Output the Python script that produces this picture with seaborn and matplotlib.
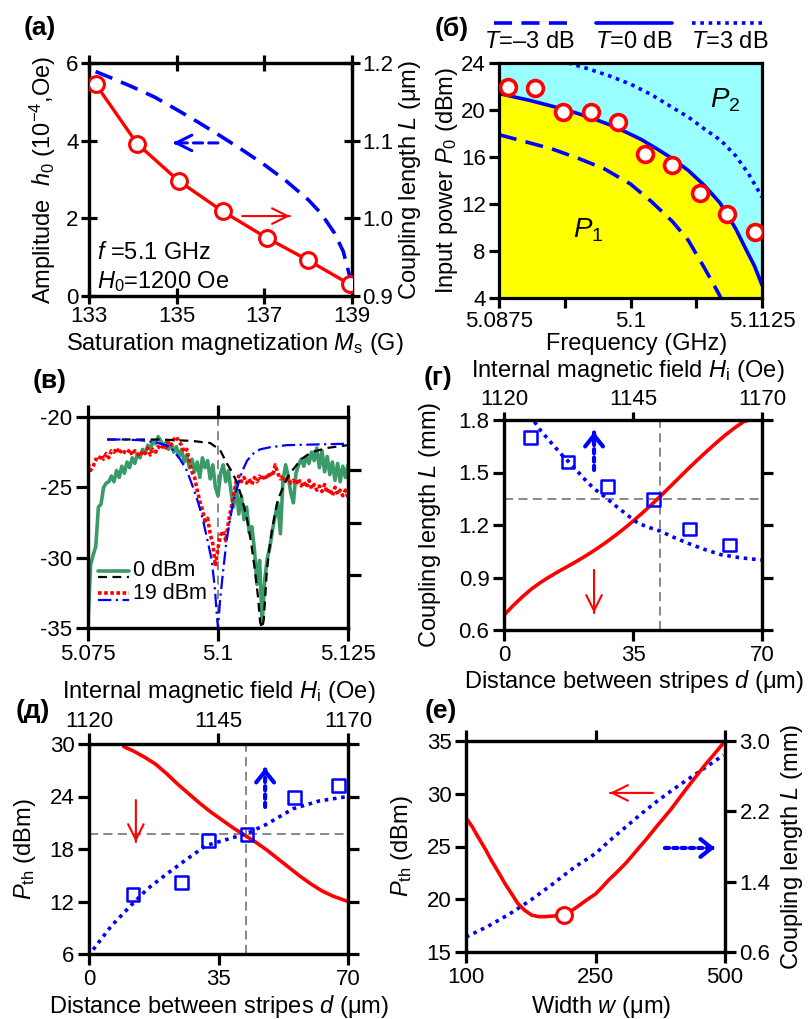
import numpy as np
import matplotlib
matplotlib.use("Agg")
import matplotlib.pyplot as plt
import seaborn as sns

# ---------------- data ----------------
# (a) coupling length vs saturation magnetization, and field amplitude
ms_pts = [133.15, 134.1, 135.05, 136.05, 137.05, 138.0, 138.95]
len_pts = [1.173, 1.096, 1.048, 1.009, 0.975, 0.946, 0.915]
ms_curve = [133.15, 133.5, 134.0, 134.5, 135.0, 135.5, 136.0, 136.5, 137.0,
            137.5, 138.0, 138.3, 138.6, 138.8, 138.95]
h0_curve = [5.78, 5.62, 5.38, 5.12, 4.80, 4.47, 4.12, 3.76, 3.38,
            2.96, 2.48, 2.12, 1.62, 1.15, 0.50]

# (б) input power phase diagram
f_t0 = [5.0875, 5.0890, 5.0905, 5.0920, 5.0935, 5.0950, 5.0965, 5.0980, 5.0995,
        5.1010, 5.1025, 5.1040, 5.1055, 5.1070, 5.1085, 5.1100, 5.1110, 5.1118, 5.1125]
p_t0 = [21.4, 21.1, 20.8, 20.45, 20.1, 19.7, 19.25, 18.75, 18.15,
        17.5, 16.7, 15.85, 14.85, 13.6, 12.1, 9.9, 8.1, 6.7, 5.1]
f_tm3 = [5.0875, 5.0900, 5.0925, 5.0950, 5.0975, 5.1000, 5.1020, 5.1040, 5.1055,
         5.1070, 5.1080, 5.1086]
p_tm3 = [17.9, 17.3, 16.7, 15.9, 15.0, 13.7, 12.2, 10.5, 8.9, 6.6, 5.0, 4.0]
f_tp3 = [5.0941, 5.0960, 5.0980, 5.1000, 5.1020, 5.1040, 5.1055, 5.1070, 5.1086,
         5.1100, 5.1112, 5.1125]
p_tp3 = [24.0, 23.5, 22.9, 22.2, 21.3, 20.2, 19.4, 18.4, 17.4, 16.1, 14.6, 12.6]
f_meas = [5.08836, 5.09095, 5.09355, 5.09621, 5.09881, 5.10141, 5.10398,
          5.10658, 5.10921, 5.11180]
p_meas = [22.0, 21.84, 19.87, 19.79, 18.94, 16.29, 15.29, 12.96, 11.11, 9.58]

# (в) transmission spectra
f_sweep = np.linspace(5.075, 5.125, 101)
s_0dbm = [-34.7, -30.5, -29.8, -29.2, -26.4, -26.2, -25.0, -24.7, -24.6, -24.2,
          -24.6, -23.8, -24.3, -23.5, -24.0, -23.2, -23.6, -22.9, -23.3, -22.6,
          -22.9, -22.3, -22.6, -22.0, -22.3, -21.7, -21.9, -21.4, -21.7, -22.1,
          -21.8, -22.3, -21.9, -22.5, -22.1, -22.8, -22.3, -23.2, -22.7, -23.6,
          -23.0, -23.9, -23.2, -24.3, -22.9, -23.6, -23.1, -24.4, -23.4, -25.0,
          -25.6, -24.0, -23.4, -24.6, -23.8, -25.3, -26.4, -24.8, -26.9, -25.6,
          -27.3, -26.4, -28.2, -27.8, -29.4, -31.9, -30.2, -34.7, -31.5, -30.0,
          -29.2, -28.0, -27.0, -26.1, -28.3, -24.5, -23.4, -24.2, -25.4, -26.1,
          -24.0, -23.4, -23.0, -23.5, -22.8, -23.3, -22.5, -23.1, -22.2, -23.6,
          -22.4, -23.9, -22.8, -24.1, -23.2, -24.5, -23.3, -24.6, -23.5, -24.3,
          -23.4]
s_19dbm = [-23.3, -23.8, -23.5, -23.0, -23.1, -22.7, -23.0, -22.6, -22.9, -22.4,
           -22.5, -22.2, -22.6, -22.3, -22.5, -22.6, -22.3, -22.7, -22.4, -22.6,
           -22.8, -22.4, -22.6, -22.2, -22.7, -22.3, -22.5, -22.1, -22.3, -22.0,
           -22.2, -21.7, -22.0, -21.6, -21.4, -21.8, -22.0, -22.5, -22.3, -23.2,
           -23.9, -24.3, -25.2, -26.0, -26.6, -27.4, -27.2, -28.3, -29.0, -30.6,
           -29.3, -28.4, -28.1, -28.8, -27.5, -26.5, -25.5, -24.6, -24.2, -24.6,
           -24.3, -24.7, -24.4, -24.8, -24.3, -24.6, -24.2, -24.5, -24.1, -24.4,
           -23.9, -24.2, -23.4, -24.0, -24.4, -24.2, -24.6, -24.3, -24.7, -24.5,
           -24.8, -24.4, -24.9, -24.6, -25.0, -24.5, -25.1, -24.8, -25.2, -24.9,
           -25.3, -24.8, -25.4, -25.1, -25.6, -25.0, -25.5, -25.2, -25.6, -25.2,
           -25.7]
f_th19 = [5.0787, 5.0820, 5.0850, 5.0880, 5.0908, 5.0927, 5.0940, 5.0952, 5.0962,
          5.0971, 5.0980, 5.0988, 5.0994, 5.0998, 5.1000, 5.1004, 5.1010, 5.1016,
          5.1023, 5.1030, 5.1037, 5.1046, 5.1056, 5.1068, 5.1081, 5.1100, 5.1133,
          5.1190, 5.1250]
s_th19 = [-21.6, -21.6, -21.65, -21.8, -22.1, -23.0, -23.8, -25.0, -26.1,
          -27.3, -28.8, -30.2, -32.2, -34.2, -35.0, -33.0, -30.9, -28.9,
          -27.3, -25.9, -25.0, -23.9, -23.1, -22.6, -22.3, -22.15, -22.0,
          -21.95, -21.9]
f_th0 = [5.0787, 5.0888, 5.0950, 5.0985, 5.1004, 5.1017, 5.1027, 5.1037, 5.1047,
         5.1056, 5.1064, 5.1071, 5.1077, 5.1081, 5.1085, 5.1088, 5.1094, 5.1099,
         5.1104, 5.1110, 5.1115, 5.1125, 5.1135, 5.1145, 5.1160, 5.1180, 5.1210,
         5.1250]
s_th0 = [-21.6, -21.6, -21.7, -21.85, -22.35, -23.3, -23.9, -24.7, -25.9,
         -27.3, -29.0, -30.9, -32.8, -34.6, -35.0, -34.4, -30.9, -29.3,
         -28.0, -26.8, -25.9, -25.0, -24.2, -23.7, -23.0, -22.5, -22.2, -22.0]

# (г) coupling length vs stripe distance / internal field
d_len = [0, 2.5, 5, 7.5, 10, 12.5, 15, 17.5, 20, 22.5, 25, 27.5, 30, 32.5, 35,
         37.5, 40, 42.5, 45, 47.5, 50, 52.5, 55, 57.5, 60, 62.5, 65, 66.5]
l_vs_d = [0.685, 0.74, 0.79, 0.835, 0.873, 0.906, 0.937, 0.966, 0.996, 1.028,
          1.062, 1.098, 1.137, 1.178, 1.222, 1.268, 1.316, 1.366, 1.418, 1.47,
          1.522, 1.572, 1.621, 1.668, 1.713, 1.754, 1.79, 1.80]
h_len = [1125.9, 1127.1, 1128.4, 1129.8, 1131.3, 1132.9, 1134.6, 1136.3, 1137.9,
         1139.5, 1141.2, 1142.9, 1144.5, 1146.0, 1148.2, 1150.3, 1153.0, 1155.7,
         1158.9, 1162.1, 1166.0, 1170.0]
l_vs_h = [1.79, 1.74, 1.695, 1.648, 1.598, 1.55, 1.495, 1.44, 1.398, 1.362,
          1.32, 1.28, 1.243, 1.21, 1.185, 1.165, 1.128, 1.095, 1.06, 1.03,
          1.012, 1.0]
h_len_meas = [1125.2, 1132.4, 1140.1, 1148.9, 1156.0, 1163.7]
l_meas = [1.70, 1.56, 1.42, 1.347, 1.177, 1.086]
d_cross_g, l_cross_g = 42.4, 1.35

# (д) threshold power vs stripe distance / internal field
d_pth = [9.4, 12, 15, 18, 21, 24, 27, 30, 33, 36, 39, 42, 45, 48, 51, 54, 57,
         60, 63, 66, 70]
pth_vs_d = [29.7, 29.2, 28.5, 27.7, 26.6, 25.4, 24.3, 23.2, 22.2, 21.3, 20.4,
            19.6, 18.8, 17.9, 16.9, 15.9, 14.9, 14.0, 13.2, 12.6, 12.0]
h_pth = [1120.8, 1124.3, 1128.5, 1131.4, 1134.9, 1138.8, 1142.6, 1147.8,
         1150.4, 1154.2, 1159.4, 1164.5, 1170.0]
pth_vs_h = [6.5, 9.2, 11.8, 13.5, 15.1, 16.8, 18.4, 19.3, 19.75, 20.8,
            22.6, 23.5, 24.0]
h_pth_meas = [1128.5, 1137.9, 1143.1, 1150.5, 1159.7, 1168.2]
pth_meas = [12.77, 14.2, 18.97, 19.7, 23.9, 25.3]
d_cross_d, p_cross_d = 42.5, 19.7

# (е) threshold power and coupling length vs width
w_pth = [100, 107, 114, 122, 130, 138, 145, 153, 160, 168, 176, 184, 192, 200,
         207, 214, 222, 230, 240, 250, 262, 275, 290, 310, 332.5, 350, 364.7,
         380, 396.9, 412, 429, 445, 461, 480, 500]
pth_vs_w = [27.7, 26.9, 25.9, 24.8, 23.6, 22.5, 21.5, 20.5, 19.6, 18.95, 18.5,
            18.35, 18.35, 18.4, 18.45, 18.55, 18.9, 19.35, 19.95, 20.5, 21.1,
            21.8, 22.5, 23.5, 24.8, 25.8, 26.7, 27.6, 28.6, 29.6, 30.7, 31.7,
            32.7, 33.8, 35.0]
w_len = [100, 125, 150, 175, 200, 225, 250, 280, 310, 340, 370, 400, 430, 460, 497]
l_vs_w = [0.77, 0.89, 1.03, 1.19, 1.37, 1.56, 1.72, 1.88, 2.03, 2.18, 2.32,
          2.45, 2.57, 2.69, 2.84]
w_opt, pth_opt = 214, 18.53

# ---------------- style ----------------
sns.set_theme(style="ticks")
plt.rcParams.update({
    "font.family": ["Liberation Sans", "DejaVu Sans"],
    "mathtext.fontset": "custom",
    "mathtext.rm": "Liberation Sans",
    "mathtext.it": "Liberation Sans:italic",
    "mathtext.bf": "Liberation Sans:bold",
    "axes.unicode_minus": False,
    "font.size": 16,
    "axes.linewidth": 2.3,
    "axes.edgecolor": "black",
    "text.color": "black",
    "axes.labelcolor": "black",
    "xtick.color": "black",
    "ytick.color": "black",
})

TFS = 16     # tick labels
LFS = 17     # axis labels
BLUE = "#0000ff"
RED = "#ff0000"
GREEN = "#3a9a68"
CYAN = "#99ffff"
YELLOW = "#ffff00"
GRAY = "#7f7f7f"

W, H = 810, 1019
fig = plt.figure(figsize=(W / 100, H / 100), dpi=100)


def box(l, t, r, b):
    return [l / W, 1 - b / H, (r - l) / W, (b - t) / H]


def ticks(ax, direction="out", length=7, pad=2.5):
    ax.tick_params(which="both", direction=direction, length=length, width=2.3,
                   labelsize=TFS, pad=pad)


def ylab(ax, text, x):
    ax.set_ylabel(text, fontsize=LFS)
    ax.yaxis.set_label_coords(x, 0.5)
    ax.yaxis.label.set_verticalalignment("center")
    ax.yaxis.label.set_rotation(90)


def xlab(ax, text, y, x=0.5):
    ax.set_xlabel(text, fontsize=LFS)
    ax.xaxis.set_label_coords(x, y)
    ax.xaxis.label.set_verticalalignment("center")


def arrow(ax, start, end, color, ls="-", lw=1.5, hl=0.7, hw=0.35):
    # shaft with its own line style, then a solid open head
    ax.annotate("", xy=end, xytext=start, xycoords="axes fraction",
                textcoords="axes fraction",
                arrowprops=dict(arrowstyle="-", color=color, lw=lw, linestyle=ls,
                                shrinkA=0, shrinkB=0))
    sx, sy = start
    ex, ey = end
    hx = ex - (ex - sx) * 0.08
    hy = ey - (ey - sy) * 0.08
    ax.annotate("", xy=end, xytext=(hx, hy), xycoords="axes fraction",
                textcoords="axes fraction",
                arrowprops=dict(arrowstyle=f"->,head_length={hl},head_width={hw}",
                                color=color, lw=lw, shrinkA=0, shrinkB=0))


def panel(txt, x, y):
    fig.text(x / W, 1 - y / H, txt, fontsize=19, fontweight="bold",
             ha="center", va="center")


line_kw = dict(estimator=None, sort=False, legend=False)
DASH = (0, (5, 2.6))
DOT = (0, (1, 1.3))

# ---------------- (a) ----------------
ax = fig.add_axes(box(89, 63, 352, 296))
axr = ax.twinx()
sns.lineplot(x=ms_curve, y=h0_curve, ax=ax, color=BLUE, lw=2.6,
             linestyle=DASH, **line_kw)
sns.lineplot(x=ms_pts, y=len_pts, ax=axr, color=RED, lw=2.4, **line_kw)
sns.scatterplot(x=ms_pts, y=len_pts, ax=axr, marker="o", s=130,
                facecolor="white", edgecolor=RED, linewidth=2.2, zorder=5,
                legend=False)
ax.set_xlim(133, 139)
ax.set_ylim(0, 6)
axr.set_ylim(0.9, 1.2)
ax.set_xticks([133, 135, 137, 139])
ax.set_yticks([0, 2, 4, 6])
axr.set_yticks([0.9, 1.0, 1.1, 1.2])
axr.set_yticklabels(["0.9", "1.0", "1.1", "1.2"])
ticks(ax, "inout", 12, pad=1.5)
ticks(axr, "inout", 12, pad=1.5)
ax.tick_params(top=True)
ylab(ax, r"Amplitude  $h_0$ (10$^{-4}$,Oe)", -0.175)
ylab(axr, r"Coupling length $L$ (μm)", 1.222)
xlab(ax, r"Saturation magnetization $M_{\rm s}$ (G)", -0.205, x=0.555)
ax.text(0.03, 0.185, r"$f$ =5.1 GHz", transform=ax.transAxes, fontsize=LFS,
        va="center")
ax.text(0.03, 0.062, r"$H_0$=1200 Oe", transform=ax.transAxes, fontsize=LFS,
        va="center")
arrow(ax, (0.49, 0.657), (0.319, 0.657), BLUE, ls=(0, (3, 2)), lw=2.2)
arrow(ax, (0.582, 0.343), (0.764, 0.343), RED, lw=1.5)
panel("(a)", 40, 28)

# ---------------- (б) ----------------
ax = fig.add_axes(box(499, 63, 762, 298))
ax.set_facecolor(CYAN)
ax.fill_between(f_t0, 4, p_t0, color=YELLOW, lw=0, zorder=0.5)
sns.lineplot(x=f_t0, y=p_t0, ax=ax, color=BLUE, lw=2.6, **line_kw)
sns.lineplot(x=f_tm3, y=p_tm3, ax=ax, color=BLUE, lw=2.6, linestyle=DASH,
             **line_kw)
sns.lineplot(x=f_tp3, y=p_tp3, ax=ax, color=BLUE, lw=2.6, linestyle=DOT,
             **line_kw)
sns.scatterplot(x=f_meas, y=p_meas, ax=ax, marker="o", s=130,
                facecolor="white", edgecolor=RED, linewidth=2.6, zorder=5,
                legend=False)
ax.set_xlim(5.0875, 5.1125)
ax.set_ylim(4, 24)
ax.set_xticks([5.0875, 5.09375, 5.1, 5.10625, 5.1125])
ax.set_xticklabels(["5.0875", "", "5.1", "", "5.1125"])
ax.set_yticks([4, 8, 12, 16, 20, 24])
ticks(ax, "out", 7)
ylab(ax, r"Input power $P_0$ (dBm)", -0.198)
xlab(ax, "Frequency (GHz)", -0.196, x=0.525)
ax.text(0.34, 0.29, r"$P_1$", transform=ax.transAxes, fontsize=20,
        ha="center", va="center")
ax.text(0.86, 0.84, r"$P_2$", transform=ax.transAxes, fontsize=20,
        ha="center", va="center")
for (x0, x1), ls, lab, xc in [((-0.019, 0.259), DASH, r"$T$=–3 dB", 0.114),
                              ((0.369, 0.658), "-", r"$T$=0 dB", 0.513),
                              ((0.734, 1.0), DOT, r"$T$=3 dB", 0.878)]:
    ax.plot([x0, x1], [1.17, 1.17], transform=ax.transAxes, color=BLUE, lw=2.6,
            linestyle=ls, clip_on=False)
    ax.text(xc, 1.089, lab, transform=ax.transAxes, fontsize=LFS,
            ha="center", va="center")
panel("(б)", 452, 29)

# ---------------- (в) ----------------
ax = fig.add_axes(box(88, 417, 348, 628))
ax.axvline(5.1, color=GRAY, lw=1.3, linestyle=(0, (5, 3)), zorder=0.8)
sns.lineplot(x=f_sweep, y=s_0dbm, ax=ax, color=GREEN, lw=2.6, **line_kw)
sns.lineplot(x=f_sweep, y=s_19dbm, ax=ax, color=RED, lw=2.6,
             linestyle=(0, (1, 0.7)), **line_kw)
sns.lineplot(x=f_th0, y=s_th0, ax=ax, color="black", lw=1.6,
             linestyle=(0, (4, 2.5)), **line_kw)
sns.lineplot(x=f_th19, y=s_th19, ax=ax, color=BLUE, lw=1.6,
             linestyle=(0, (6, 2, 1, 2)), **line_kw)
ax.set_xlim(5.075, 5.125)
ax.set_ylim(-35, -20)
ax.set_xticks([5.075, 5.1, 5.125])
ax.set_xticklabels(["5.075", "5.1", "5.125"])
ax.set_yticks([-35, -30, -25, -20])
ticks(ax, "out", 9)
ax.tick_params(top=True)
axr = ax.twinx()
axr.set_ylim(0, 4)
axr.set_yticks([1, 2, 3])
axr.set_yticklabels([])
ticks(axr, "out", 9)
lx = [0.038, 0.158]
ax.plot(lx, [0.270, 0.270], transform=ax.transAxes, color=GREEN, lw=2.6)
ax.plot(lx, [0.244, 0.244], transform=ax.transAxes, color="black", lw=1.6,
        linestyle=(0, (4, 2.5)))
ax.plot(lx, [0.166, 0.166], transform=ax.transAxes, color=RED, lw=2.6,
        linestyle=(0, (1, 0.7)))
ax.plot(lx, [0.135, 0.135], transform=ax.transAxes, color=BLUE, lw=1.6,
        linestyle=(0, (6, 2, 1, 2)))
ax.text(0.173, 0.272, "0 dBm", transform=ax.transAxes, fontsize=15.5, va="center")
ax.text(0.173, 0.163, "19 dBm", transform=ax.transAxes, fontsize=15.5, va="center")
panel("(в)", 50, 381)

# ---------------- (г) ----------------
ax = fig.add_axes(box(504, 420, 762, 630))
ax.axvline(d_cross_g, color=GRAY, lw=1.3, linestyle=(0, (5, 3)), zorder=0.8)
ax.axhline(l_cross_g, color=GRAY, lw=1.3, linestyle=(0, (5, 3)), zorder=0.8)
sns.lineplot(x=d_len, y=l_vs_d, ax=ax, color=RED, lw=2.6, **line_kw)
ax.set_xlim(0, 70)
ax.set_ylim(0.6, 1.8)
ax.set_xticks([0, 35, 70])
ax.set_yticks([0.6, 0.9, 1.2, 1.5, 1.8])
ticks(ax, "out", 8)
ax.tick_params(right=True, labelright=False)
axt = ax.twiny()
sns.lineplot(x=h_len, y=l_vs_h, ax=axt, color=BLUE, lw=2.6, linestyle=DOT,
             **line_kw)
sns.scatterplot(x=h_len_meas, y=l_meas, ax=axt, marker="s", s=85,
                facecolor="none", edgecolor=BLUE, linewidth=1.8, zorder=5,
                legend=False)
axt.set_xlim(1120, 1170)
axt.set_ylim(0.6, 1.8)
axt.set_xticks([1120, 1145, 1170])
ticks(axt, "out", 6, pad=1)
ylab(ax, r"Coupling length $L$ (mm)", -0.287)
xlab(ax, r"Distance between stripes $d$ (μm)", -0.243, x=0.505)
axt.set_xlabel(r"Internal magnetic field $H_{\rm i}$ (Oe)", fontsize=LFS)
axt.xaxis.set_label_coords(0.48, 1.232)
axt.xaxis.label.set_verticalalignment("center")
arrow(ax, (0.349, 0.762), (0.349, 0.943), BLUE, ls=(0, (1, 1)), lw=3.0,
      hl=0.5, hw=0.4)
arrow(ax, (0.349, 0.286), (0.349, 0.081), RED, lw=1.5)
panel("(г)", 438, 378)

# ---------------- (д) ----------------
ax = fig.add_axes(box(89, 744, 348, 954))
ax.axvline(d_cross_d, color=GRAY, lw=1.3, linestyle=(0, (5, 3)), zorder=0.8)
ax.axhline(p_cross_d, color=GRAY, lw=1.3, linestyle=(0, (5, 3)), zorder=0.8)
sns.lineplot(x=d_pth, y=pth_vs_d, ax=ax, color=RED, lw=2.6, **line_kw)
ax.set_xlim(0, 70)
ax.set_ylim(6, 30)
ax.set_xticks([0, 35, 70])
ax.set_yticks([6, 12, 18, 24, 30])
ticks(ax, "out", 8)
ax.tick_params(right=True, labelright=False)
axt = ax.twiny()
sns.lineplot(x=h_pth, y=pth_vs_h, ax=axt, color=BLUE, lw=2.6, linestyle=DOT,
             **line_kw)
sns.scatterplot(x=h_pth_meas, y=pth_meas, ax=axt, marker="s", s=85,
                facecolor="none", edgecolor=BLUE, linewidth=1.8, zorder=5,
                legend=False)
axt.set_xlim(1120, 1170)
axt.set_ylim(6, 30)
axt.set_xticks([1120, 1145, 1170])
ticks(axt, "out", 8, pad=1)
ylab(ax, r"$P_{\rm th}$ (dBm)", -0.247)
xlab(ax, r"Distance between stripes $d$ (μm)", -0.252)
axt.set_xlabel(r"Internal magnetic field $H_{\rm i}$ (Oe)", fontsize=LFS)
axt.xaxis.set_label_coords(0.5, 1.25)
axt.xaxis.label.set_verticalalignment("center")
arrow(ax, (0.181, 0.733), (0.181, 0.533), RED, lw=1.5)
arrow(ax, (0.680, 0.70), (0.680, 0.886), BLUE, ls=(0, (1, 1)), lw=3.0,
      hl=0.5, hw=0.4)
panel("(д)", 33, 711)

# ---------------- (е) ----------------
ax = fig.add_axes(box(466, 741, 725, 952))
w_nodes, pos_nodes = [100, 250, 500], [0.0, 1.0, 2.0]
ax.set_xscale("function",
              functions=(lambda v: np.interp(v, w_nodes, pos_nodes),
                         lambda v: np.interp(v, pos_nodes, w_nodes)))
axr = ax.twinx()
sns.lineplot(x=w_len, y=l_vs_w, ax=axr, color=BLUE, lw=2.6, linestyle=DOT,
             **line_kw)
sns.lineplot(x=w_pth, y=pth_vs_w, ax=ax, color=RED, lw=2.6, **line_kw)
ax.set_zorder(axr.get_zorder() + 1)
ax.patch.set_visible(False)
sns.scatterplot(x=[w_opt], y=[pth_opt], ax=ax, marker="o", s=130,
                facecolor="white", edgecolor=RED, linewidth=2.2, zorder=5,
                legend=False)
ax.set_xlim(100, 500)
ax.set_ylim(15, 35)
axr.set_ylim(0.6, 3.0)
ax.set_xticks([100, 250, 500])
ax.set_xticklabels(["100", "250", "500"])
ax.set_yticks([15, 20, 25, 30, 35])
axr.set_yticks([0.6, 1.4, 2.2, 3.0])
axr.set_yticklabels(["0.6", "1.4", "2.2", "3.0"])
ticks(ax, "out", 8)
ticks(axr, "out", 8)
ax.tick_params(top=True)
ylab(ax, r"$P_{\rm th}$ (dBm)", -0.247)
ylab(axr, r"Coupling length $L$ (mm)", 1.259)
xlab(ax, r"Width $w$ (μm)", -0.261, x=0.52)
arrow(ax, (0.722, 0.754), (0.556, 0.754), RED, lw=1.5)
arrow(ax, (0.768, 0.493), (0.961, 0.493), BLUE, ls=(0, (1, 1)), lw=3.0,
      hl=0.5, hw=0.4)
panel("(е)", 441, 711)

fig.savefig("out.png", dpi=100)
